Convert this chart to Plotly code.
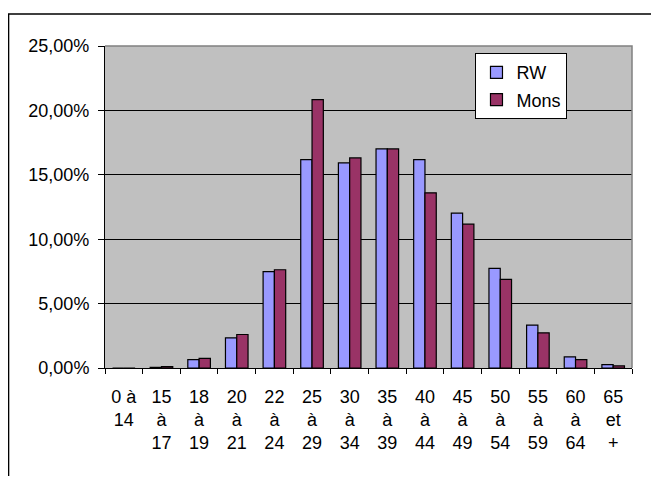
import plotly.graph_objects as go

categories = ["0 à<br>14", "15<br>à<br>17", "18<br>à<br>19", "20<br>à<br>21", "22<br>à<br>24",
              "25<br>à<br>29", "30<br>à<br>34", "35<br>à<br>39", "40<br>à<br>44", "45<br>à<br>49",
              "50<br>à<br>54", "55<br>à<br>59", "60<br>à<br>64", "65<br>et<br>+"]
rw = [0.0, 0.0005, 0.0065, 0.0234, 0.0748, 0.1618, 0.1592, 0.1701, 0.1618, 0.1202,
      0.0774, 0.0333, 0.0086, 0.0026]
mons = [0.0, 0.001, 0.0075, 0.026, 0.0763, 0.2083, 0.1631, 0.1701, 0.1360, 0.1117,
        0.0688, 0.0273, 0.0065, 0.0016]

FONT = "Liberation Sans, Arial, sans-serif"

fig = go.Figure()
fig.add_trace(go.Bar(x=categories, y=rw, name="RW", legendgroup="a",
                     marker=dict(color="#9999FF", line=dict(color="black", width=1.2))))
fig.add_trace(go.Bar(x=categories, y=mons, name="Mons", legendgroup="b",
                     marker=dict(color="#993366", line=dict(color="black", width=1.2))))

fig.update_layout(
    width=643, height=468,
    margin=dict(l=97, r=19, t=38, b=108),
    paper_bgcolor="white",
    plot_bgcolor="#C0C0C0",
    barmode="group",
    bargap=0.40,
    bargroupgap=0,
    separators=", ",
    font=dict(family=FONT, size=18, color="black"),
    showlegend=True,
    legend=dict(x=0.703, y=0.978, xanchor="left", yanchor="top",
                bgcolor="white", bordercolor="black", borderwidth=1,
                font=dict(size=18), traceorder="grouped", tracegroupgap=1,
                itemwidth=30),
    xaxis=dict(type="category", showline=True, linecolor="black", linewidth=1,
               ticks="outside", tickson="boundaries", ticklen=5, tickcolor="black",
               showgrid=False, tickfont=dict(size=18), ticklabelstandoff=12,
               fixedrange=True),
    yaxis=dict(range=[0, 0.25], dtick=0.05, tickformat=".2%", showline=True,
               linecolor="black", linewidth=1, ticks="outside", ticklen=6,
               tickcolor="black", showgrid=True, gridcolor="black", gridwidth=1,
               zeroline=False, tickfont=dict(size=18), ticklabelstandoff=5,
               fixedrange=True),
    shapes=[
        dict(type="path", xref="paper", yref="paper",
             path="M 0,1 L 1,1 L 1,0", line=dict(color="#808080", width=1.5)),
        dict(type="path", xref="paper", yref="paper",
             path="M -0.183,-0.6 L -0.183,1.099 L 1.3,1.099",
             line=dict(color="black", width=1.5), layer="below"),
    ],
)

fig.write_html("out.html")
